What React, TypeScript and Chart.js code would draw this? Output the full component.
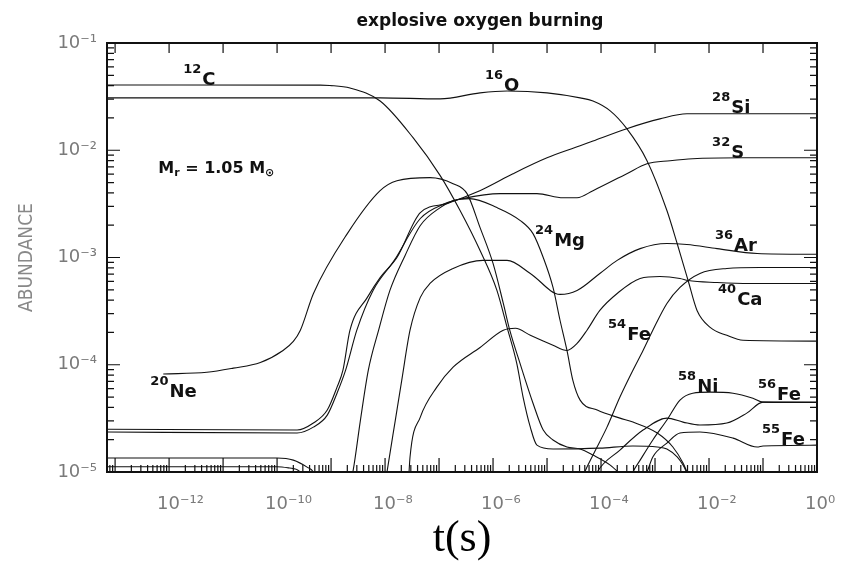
import React, { useEffect, useRef } from "react";
import { Chart, registerables } from "chart.js";

Chart.register(...registerables);

// ---------- text ----------
const TITLE = "explosive oxygen burning";
const X_TITLE = "t(s)";
const Y_TITLE = "ABUNDANCE";

// ---------- axes ----------
const X_MIN = 7.08e-14;
const X_MAX = 1;
const Y_MIN = 1e-5;
const Y_MAX = 0.1;
const X_LABEL_EXPONENTS = [-12, -10, -8, -6, -4, -2, 0];
const X_DECADE_EXPONENTS = [-14, -13, -12, -11, -10, -9, -8, -7, -6, -5, -4, -3, -2, -1, 0];
const Y_LABEL_EXPONENTS = [-5, -4, -3, -2, -1];
const MINOR_MULTIPLIERS = [2, 3, 4, 5, 6, 7, 8, 9];

// ---------- series (time in s, abundance) ----------
const T_C12 = [5e-14, 6.3e-10, 9.5e-10, 2.24e-9, 8.1e-9, 3.3e-8, 1.05e-7, 2.45e-7, 5.75e-7, 1.18e-6, 1.82e-6, 2.75e-6, 3.6e-6, 4.9e-6, 6.5e-6, 1.29e-5, 9.5e-5, 3.9e-4, 1.1e-3, 1.66e-3, 2.57e-3, 3.3e-3, 4.5e-3];
const Y_C12 = [0.0406, 0.0405, 0.0402, 0.0381, 0.0288, 0.0131, 0.0058, 0.00274, 0.00116, 4.93e-4, 2.23e-4, 1.03e-4, 5.0e-5, 2.62e-5, 1.78e-5, 1.64e-5, 1.67e-5, 1.75e-5, 1.71e-5, 1.64e-5, 1.38e-5, 1.16e-5, 8.4e-6];

const T_NE20 = [7.8e-13, 5.0e-12, 1.55e-11, 4.9e-11, 1.29e-10, 2.0e-10, 2.7e-10, 4.7e-10, 2.0e-9, 8.1e-9, 1.66e-8, 6.8e-8, 1.82e-7, 3.3e-7, 5.75e-7, 1.0e-6, 1.55e-6, 2.04e-6, 3.16e-6, 5.5e-6, 8.5e-6, 1.29e-5, 2.34e-5, 4.1e-5, 7.1e-5, 1.48e-4, 2.7e-4];
const Y_NE20 = [8.2e-5, 8.5e-5, 9.3e-5, 1.05e-4, 1.36e-4, 1.65e-4, 2.1e-4, 4.6e-4, 1.67e-3, 4.2e-3, 5.2e-3, 5.55e-3, 4.88e-3, 3.94e-3, 1.9e-3, 8.8e-4, 3.73e-4, 2.1e-4, 1.03e-4, 4.38e-5, 2.46e-5, 1.99e-5, 1.71e-5, 1.64e-5, 1.44e-5, 1.16e-5, 8.8e-6];

const T_O16 = [5e-14, 8.1e-9, 1.05e-7, 5.75e-7, 1.82e-6, 1.0e-5, 4.1e-5, 7.1e-5, 1.48e-4, 3.0e-4, 7.1e-4, 1.66e-3, 2.57e-3, 3.3e-3, 4.1e-3, 6.0e-3, 0.0105, 0.0214, 0.0427, 1.2];
const Y_O16 = [0.0308, 0.0308, 0.0301, 0.0343, 0.0357, 0.0343, 0.0308, 0.0288, 0.0233, 0.0159, 0.008, 0.00274, 0.00135, 8.8e-4, 6.1e-4, 3.21e-4, 2.23e-4, 1.88e-4, 1.69e-4, 1.66e-4];

const T_SI28 = [5e-14, 2.34e-10, 4.7e-10, 8.5e-10, 1.29e-9, 1.66e-9, 2.24e-9, 4.7e-9, 8.1e-9, 1.66e-8, 4.5e-8, 1.4e-7, 2.75e-7, 6.8e-7, 2.34e-6, 1.0e-5, 4.1e-5, 7.1e-5, 3.0e-4, 1.23e-3, 3.9e-3, 1.2];
const Y_SI28 = [2.51e-5, 2.46e-5, 2.86e-5, 3.78e-5, 6.18e-5, 8.9e-5, 2.1e-4, 4.25e-4, 6.5e-4, 1.0e-3, 2.62e-3, 3.18e-3, 3.61e-3, 4.38e-3, 6.04e-3, 8.5e-3, 0.011, 0.0122, 0.0159, 0.0196, 0.0219, 0.0219];

const T_S32 = [5e-14, 2.34e-10, 4.7e-10, 8.5e-10, 1.29e-9, 1.86e-9, 3.0e-9, 6.0e-9, 1.48e-8, 4.5e-8, 1.29e-7, 2.75e-7, 1.35e-6, 6.5e-6, 1.99e-5, 3.6e-5, 7.1e-5, 3.0e-4, 7.1e-4, 1.9e-3, 5.0e-3, 0.043, 1.2];
const Y_S32 = [2.36e-5, 2.31e-5, 2.62e-5, 3.39e-5, 5.43e-5, 8.9e-5, 2.1e-4, 4.93e-4, 9.4e-4, 2.31e-3, 3.18e-3, 3.54e-3, 3.94e-3, 3.94e-3, 3.61e-3, 3.61e-3, 4.2e-3, 6.04e-3, 7.48e-3, 7.98e-3, 8.34e-3, 8.51e-3, 8.51e-3];

const T_MG24 = [2.24e-9, 2.57e-9, 3.5e-9, 4.9e-9, 7.6e-9, 1.23e-8, 2.34e-8, 4.5e-8, 1.05e-7, 1.82e-7, 3.7e-7, 1.18e-6, 3.2e-6, 5.5e-6, 8.5e-6, 1.29e-5, 1.74e-5, 2.34e-5, 3.0e-5, 4.1e-5, 8.5e-5, 2.24e-4, 3.9e-4, 1.1e-3, 2.14e-3, 3.3e-3, 4.5e-3];
const Y_MG24 = [7.6e-6, 1.04e-5, 3.05e-5, 8.9e-5, 2.1e-4, 4.93e-4, 1.04e-3, 1.99e-3, 2.92e-3, 3.39e-3, 3.54e-3, 2.92e-3, 2.21e-3, 1.67e-3, 1.0e-3, 5.26e-4, 2.6e-4, 1.36e-4, 7.2e-5, 4.68e-5, 3.78e-5, 3.18e-5, 2.92e-5, 2.31e-5, 1.71e-5, 1.21e-5, 8.4e-6];

const T_AR36 = [1.0e-8, 1.1e-8, 1.55e-8, 2.04e-8, 2.9e-8, 4.5e-8, 6.8e-8, 1.82e-7, 6.5e-7, 1.82e-6, 4.9e-6, 1.74e-5, 3.6e-5, 9.5e-5, 1.99e-4, 5.3e-4, 1.66e-3, 3.9e-3, 0.0141, 0.078, 1.2];
const Y_AR36 = [7.6e-6, 1.04e-5, 3.05e-5, 7.2e-5, 2.1e-4, 4.25e-4, 5.73e-4, 7.9e-4, 9.4e-4, 9.4e-4, 7.1e-4, 4.53e-4, 4.93e-4, 7.1e-4, 9.4e-4, 1.21e-3, 1.35e-3, 1.32e-3, 1.21e-3, 1.09e-3, 1.07e-3];

const T_CA40 = [2.7e-8, 2.9e-8, 4.5e-8, 9.1e-8, 1.82e-7, 5.75e-7, 1.55e-6, 2.6e-6, 4.9e-6, 1.29e-5, 2.34e-5, 3.6e-5, 5.5e-5, 9.5e-5, 1.99e-4, 5.3e-4, 1.23e-3, 2.9e-3, 4.1e-3, 0.0141, 0.058, 1.2];
const Y_CA40 = [7.6e-6, 1.38e-5, 3.25e-5, 6.18e-5, 9.5e-5, 1.45e-4, 2.1e-4, 2.19e-4, 1.88e-4, 1.52e-4, 1.36e-4, 1.58e-4, 2.1e-4, 3.21e-4, 4.62e-4, 6.38e-4, 6.65e-4, 6.38e-4, 6.1e-4, 5.85e-4, 5.73e-4, 5.73e-4];

const T_FE54 = [4.1e-5, 5.0e-5, 7.1e-5, 1.29e-4, 2.24e-4, 3.9e-4, 6.0e-4, 9.1e-4, 1.66e-3, 2.9e-3, 6.8e-3, 0.0214, 0.087, 1.2];
const Y_FE54 = [7.6e-6, 1.0e-5, 1.44e-5, 2.62e-5, 5.0e-5, 8.9e-5, 1.36e-4, 2.1e-4, 3.73e-4, 5.26e-4, 7.1e-4, 7.9e-4, 8.07e-4, 8.07e-4];

const T_NI58 = [3.2e-4, 3.9e-4, 5.3e-4, 9.1e-4, 1.66e-3, 2.9e-3, 5.0e-3, 0.0105, 0.0278, 0.065, 0.1, 1.2];
const Y_NI58 = [7.6e-6, 1.0e-5, 1.29e-5, 1.99e-5, 3.05e-5, 4.68e-5, 5.43e-5, 5.55e-5, 5.43e-5, 4.88e-5, 4.48e-5, 4.45e-5];

const T_FE56 = [6.8e-5, 8.5e-5, 2.24e-4, 6.0e-4, 1.66e-3, 3.3e-3, 6.8e-3, 0.0214, 0.05, 0.1, 1.2];
const Y_FE56 = [7.6e-6, 1.0e-5, 1.6e-5, 2.46e-5, 3.18e-5, 2.92e-5, 2.74e-5, 2.86e-5, 3.54e-5, 4.48e-5, 4.48e-5];

const T_FE55 = [5.3e-4, 7.1e-4, 9.1e-4, 1.66e-3, 2.9e-3, 6.8e-3, 0.0278, 0.078, 0.1, 1.2];
const Y_FE55 = [7.6e-6, 1.0e-5, 1.38e-5, 1.86e-5, 2.31e-5, 2.36e-5, 2.07e-5, 1.71e-5, 1.75e-5, 1.78e-5];

// faint unlabeled traces near the lower edge
const T_TRACE_A = [5e-14, 6.5e-11, 1.0e-10, 2.0e-10, 3.6e-10, 4.7e-10, 5.8e-10];
const Y_TRACE_A = [1.35e-5, 1.35e-5, 1.35e-5, 1.29e-5, 1.11e-5, 1.0e-5, 7.6e-6];
const T_TRACE_B = [5e-14, 1.0e-10, 1.7e-10, 2.7e-10, 3.2e-10];
const Y_TRACE_B = [1.12e-5, 1.12e-5, 1.09e-5, 1.0e-5, 7.6e-6];

// ---------- curve labels (mass number, symbol, anchor t, anchor abundance) ----------
const LABEL_MASS = ["12", "16", "28", "32", "36", "40", "24", "54", "58", "56", "55", "20"];
const LABEL_SYMBOL = ["C", "O", "Si", "S", "Ar", "Ca", "Mg", "Fe", "Ni", "Fe", "Fe", "Ne"];
const LABEL_T = [1.82e-12, 7.1e-7, 0.0114, 0.0114, 0.0129, 0.0147, 6.0e-6, 1.35e-4, 2.67e-3, 0.0807, 0.0958, 4.5e-13];
const LABEL_Y = [0.0406, 0.0357, 0.0223, 8.5e-3, 1.16e-3, 3.57e-4, 1.27e-3, 1.69e-4, 5.55e-5, 4.68e-5, 1.78e-5, 4.99e-5];
const MASS_NOTE_T = 6.3e-13;
const MASS_NOTE_Y = 6.18e-3;

const SUP: Record<string, string> = { "-": "\u207B", "0": "\u2070", "1": "\u00B9", "2": "\u00B2", "3": "\u00B3", "4": "\u2074", "5": "\u2075", "6": "\u2076", "7": "\u2077", "8": "\u2078", "9": "\u2079" };
const powLabel = (v: number) => {
  const e = Math.round(Math.log10(v));
  return "10" + String(e).split("").map((c) => SUP[c] || c).join("");
};

const pts = (t: number[], y: number[]) => t.map((x, i) => ({ x, y: y[i] }));

const SERIES: [string, number[], number[]][] = [
  ["12C", T_C12, Y_C12],
  ["20Ne", T_NE20, Y_NE20],
  ["16O", T_O16, Y_O16],
  ["28Si", T_SI28, Y_SI28],
  ["32S", T_S32, Y_S32],
  ["24Mg", T_MG24, Y_MG24],
  ["36Ar", T_AR36, Y_AR36],
  ["40Ca", T_CA40, Y_CA40],
  ["54Fe", T_FE54, Y_FE54],
  ["58Ni", T_NI58, Y_NI58],
  ["56Fe", T_FE56, Y_FE56],
  ["55Fe", T_FE55, Y_FE55],
  ["trace a", T_TRACE_A, Y_TRACE_A],
  ["trace b", T_TRACE_B, Y_TRACE_B],
];

const TITLE_CENTER_X = 480;

const framePlugin = {
  id: "frameAndLabels",
  afterLayout(chart: any) {
    const tb = chart.titleBlock;
    if (tb) {
      const w = tb.right - tb.left;
      tb.left = TITLE_CENTER_X - w / 2;
      tb.right = TITLE_CENTER_X + w / 2;
    }
  },
  afterDatasetsDraw(chart: any) {
    const { ctx, chartArea: a, scales } = chart;
    const xs = scales.x;
    const ys = scales.y;
    ctx.save();
    ctx.strokeStyle = "#111";
    ctx.lineWidth = 1.2;
    ctx.beginPath();
    // x ticks
    X_DECADE_EXPONENTS.forEach((e) => {
      const dec = Math.pow(10, e);
      const px = xs.getPixelForValue(dec);
      if (px >= a.left - 0.5 && px <= a.right + 0.5) {
        ctx.moveTo(px, a.bottom);
        ctx.lineTo(px, a.bottom - 14);
        ctx.moveTo(px, a.top);
        ctx.lineTo(px, a.top + 10);
      }
      MINOR_MULTIPLIERS.forEach((k) => {
        const m = xs.getPixelForValue(k * dec);
        if (m > a.left && m < a.right) {
          ctx.moveTo(m, a.bottom);
          ctx.lineTo(m, a.bottom - 7);
        }
      });
    });
    // y ticks
    Y_LABEL_EXPONENTS.forEach((e) => {
      const dec = Math.pow(10, e);
      const py = ys.getPixelForValue(dec);
      ctx.moveTo(a.left, py);
      ctx.lineTo(a.left + 13, py);
      ctx.moveTo(a.right, py);
      ctx.lineTo(a.right - 13, py);
      MINOR_MULTIPLIERS.forEach((k) => {
        const m = ys.getPixelForValue(k * dec);
        if (m > a.top && m < a.bottom) {
          ctx.moveTo(a.left, m);
          ctx.lineTo(a.left + 7, m);
          ctx.moveTo(a.right, m);
          ctx.lineTo(a.right - 7, m);
        }
      });
    });
    ctx.stroke();
    // frame
    ctx.lineWidth = 2;
    ctx.strokeRect(a.left, a.top, a.right - a.left, a.bottom - a.top);

    // isotope labels
    ctx.fillStyle = "#111";
    ctx.textBaseline = "alphabetic";
    ctx.textAlign = "left";
    LABEL_MASS.forEach((mass, i) => {
      const x = xs.getPixelForValue(LABEL_T[i]);
      const y = ys.getPixelForValue(LABEL_Y[i]);
      ctx.font = 'bold 13px "DejaVu Sans"';
      ctx.fillText(mass, x, y - 12);
      const w = ctx.measureText(mass).width;
      ctx.font = 'bold 18px "DejaVu Sans"';
      ctx.fillText(LABEL_SYMBOL[i], x + w + 1, y);
    });

    // M_r = 1.05 M_sun
    let x = xs.getPixelForValue(MASS_NOTE_T);
    const y = ys.getPixelForValue(MASS_NOTE_Y);
    const big = 'bold 16px "DejaVu Sans"';
    const small = 'bold 11px "DejaVu Sans"';
    const parts: [string, string, number][] = [
      ["M", big, 0],
      ["r", small, 3],
      [" = 1.05 M", big, 0],
      ["\u2299", small, 3],
    ];
    parts.forEach(([s, f, dy]) => {
      ctx.font = f;
      ctx.fillText(s, x, y + dy);
      x += ctx.measureText(s).width;
    });
    ctx.restore();
  },
};

export default function App() {
  const ref = useRef<HTMLCanvasElement | null>(null);

  useEffect(() => {
    document.body.style.margin = "0";
    const canvas = ref.current;
    if (!canvas) return;
    const tickFont = { family: '"DejaVu Sans"', size: 18 };
    const chart = new Chart(canvas, {
      type: "line",
      data: {
        datasets: SERIES.map(([label, t, y]) => ({
          label,
          data: pts(t, y),
          borderColor: "#111",
          borderWidth: 1.1,
          pointRadius: 0,
          fill: false,
          cubicInterpolationMode: "monotone" as const,
        })),
      },
      options: {
        responsive: false,
        animation: false,
        events: [],
        layout: { padding: { left: 0, right: 35, top: 0, bottom: 0 } },
        plugins: {
          legend: { display: false },
          tooltip: { enabled: false },
          title: {
            display: true,
            text: TITLE,
            color: "#111",
            font: { family: '"DejaVu Sans"', size: 17, weight: "bold" },
            padding: { top: 11, bottom: 11.6 },
          },
        },
        scales: {
          x: {
            type: "logarithmic",
            position: "bottom",
            min: X_MIN,
            max: X_MAX,
            grid: { display: false, drawTicks: false },
            border: { display: false },
            afterBuildTicks: (s: any) => {
              s.ticks = X_LABEL_EXPONENTS.map((e) => ({ value: Math.pow(10, e) }));
            },
            afterFit: (s: any) => {
              s.height = 91;
              s.paddingLeft = 0;
              s.paddingRight = 0;
            },
            ticks: {
              autoSkip: false,
              maxRotation: 0,
              minRotation: 0,
              align: "start",
              labelOffset: -12,
              padding: 22,
              color: "#7a7a7a",
              font: tickFont,
              callback: (v: any) => powLabel(Number(v)),
            },
            title: {
              display: true,
              text: X_TITLE,
              color: "#000",
              font: { family: '"Liberation Serif"', size: 44 },
              padding: { top: 0, bottom: -3 },
            },
          },
          y: {
            type: "logarithmic",
            position: "left",
            min: Y_MIN,
            max: Y_MAX,
            grid: { display: false, drawTicks: false },
            border: { display: false },
            afterBuildTicks: (s: any) => {
              s.ticks = Y_LABEL_EXPONENTS.map((e) => ({ value: Math.pow(10, e) }));
            },
            afterFit: (s: any) => {
              s.width = 107;
              s.paddingTop = 0;
              s.paddingBottom = 0;
            },
            ticks: {
              autoSkip: false,
              padding: 10,
              color: "#7a7a7a",
              font: tickFont,
              callback: (v: any) => powLabel(Number(v)),
            },
            title: {
              display: true,
              text: Y_TITLE,
              color: "#888",
              font: { family: '"DejaVu Sans Condensed", "Liberation Sans Narrow", "DejaVu Sans"', size: 19 },
              padding: { top: 16, bottom: 0 },
            },
          },
        },
      },
      plugins: [framePlugin],
    } as any);
    return () => chart.destroy();
  }, []);

  return (
    <div style={{ position: "absolute", left: 0, top: 0, width: 852, height: 563 }}>
      <canvas ref={ref} width={852} height={563} style={{ display: "block" }} />
    </div>
  );
}
